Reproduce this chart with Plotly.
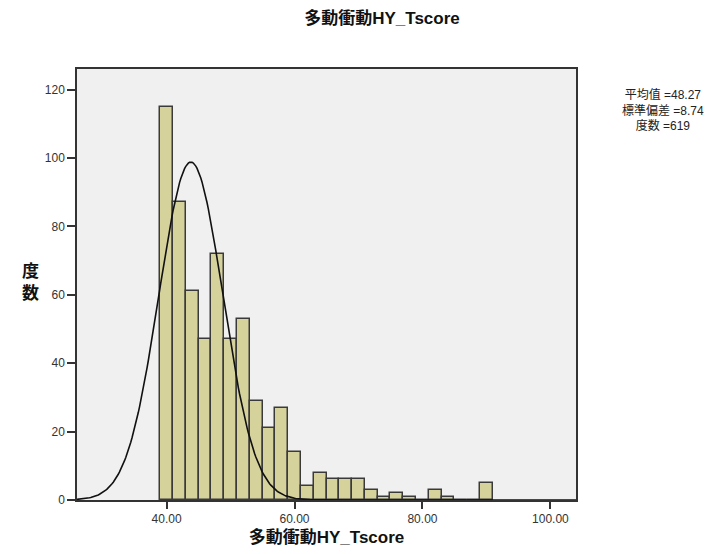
import numpy as np
import plotly.graph_objects as go

# Histogram data (bin left edges, width 2)
bin_starts = [39, 41, 43, 45, 47, 49, 51, 53, 55, 57, 59, 61, 63, 65, 67, 69,
              71, 73, 75, 77, 79, 81, 83, 85, 87, 89]
counts = [115, 87, 61, 47, 72, 47, 53, 29, 21, 27, 14, 4, 8, 6, 6, 6,
          3, 1, 2, 1, 0, 3, 1, 0, 0, 5]
bin_width = 2

# Normal curve parameters as drawn in the picture
curve_mean = 43.8
curve_sd = 5.0
n_total = 619

x_ticks = [40, 60, 80, 100]
x_tick_labels = ["40.00", "60.00", "80.00", "100.00"]
y_ticks = [0, 20, 40, 60, 80, 100, 120]

stats_lines = ["平均值 =48.27", "標準偏差 =8.74", "度数 =619"]
title_text = "多動衝動HY_Tscore"

font_family = "Liberation Sans, Arial, Noto Sans CJK JP, sans-serif"

centers = [s + bin_width / 2 for s in bin_starts]
xc = np.linspace(26, 104, 400)
yc = n_total * bin_width / (curve_sd * np.sqrt(2 * np.pi)) * np.exp(-0.5 * ((xc - curve_mean) / curve_sd) ** 2)

L, R, T, B = 77, 576, 69, 500
W, H = 719, 554

fig = go.Figure()
fig.add_trace(go.Bar(
    x=centers, y=counts, width=bin_width,
    marker=dict(color="#D6D29C", line=dict(color="#3a3a3a", width=1.5)),
    showlegend=False, hoverinfo="x+y",
))
fig.add_trace(go.Scatter(
    x=xc, y=yc, mode="lines",
    line=dict(color="#111111", width=1.6),
    showlegend=False, hoverinfo="skip",
))

fig.update_layout(
    width=W, height=H,
    margin=dict(l=L, r=W - R, t=T, b=H - B, autoexpand=False),
    paper_bgcolor="white",
    plot_bgcolor="#F0F0F0",
    font=dict(family=font_family, color="#333333"),
    bargap=0,
    title=dict(
        text="<b>" + title_text + "</b>",
        x=382 / W, xanchor="center", xref="container",
        y=1 - 18 / H, yanchor="middle", yref="container",
        font=dict(size=17, color="#111111", family=font_family),
    ),
    xaxis=dict(
        range=[26, 104],
        tickvals=x_ticks, ticktext=x_tick_labels,
        ticks="outside", ticklen=7, tickwidth=1.5, tickcolor="#333333",
        showgrid=False, zeroline=False,
        showline=True, linecolor="#333333", linewidth=1.5, mirror=True,
        tickfont=dict(size=12, color="#333333"),
        title=dict(text="<b>" + title_text + "</b>",
                   font=dict(size=17, color="#111111"), standoff=6),
    ),
    yaxis=dict(
        range=[0, 126],
        tickvals=y_ticks,
        ticks="outside", ticklen=8, tickwidth=1.5, tickcolor="#333333",
        showgrid=False, zeroline=False,
        showline=True, linecolor="#333333", linewidth=1.5, mirror=True,
        tickfont=dict(size=12, color="#333333"),
    ),
)

# Y-axis title stacked vertically
fig.add_annotation(
    text="<b>度<br>数</b>", xref="paper", yref="paper",
    x=(30 - L) / (R - L), y=(B - 282) / (B - T), xanchor="center", yanchor="middle",
    showarrow=False, font=dict(size=17, color="#111111"),
)

# Statistics text at the right
fig.add_annotation(
    text="<br>".join(stats_lines), xref="paper", yref="paper",
    x=(663 - L) / (R - L), y=(B - 110) / (B - T),
    xanchor="center", yanchor="middle", align="center",
    showarrow=False, font=dict(size=12, color="#222222"),
)

fig.write_html("out.html", config={"displayModeBar": False},
               post_script="document.body.style.margin='0';")
